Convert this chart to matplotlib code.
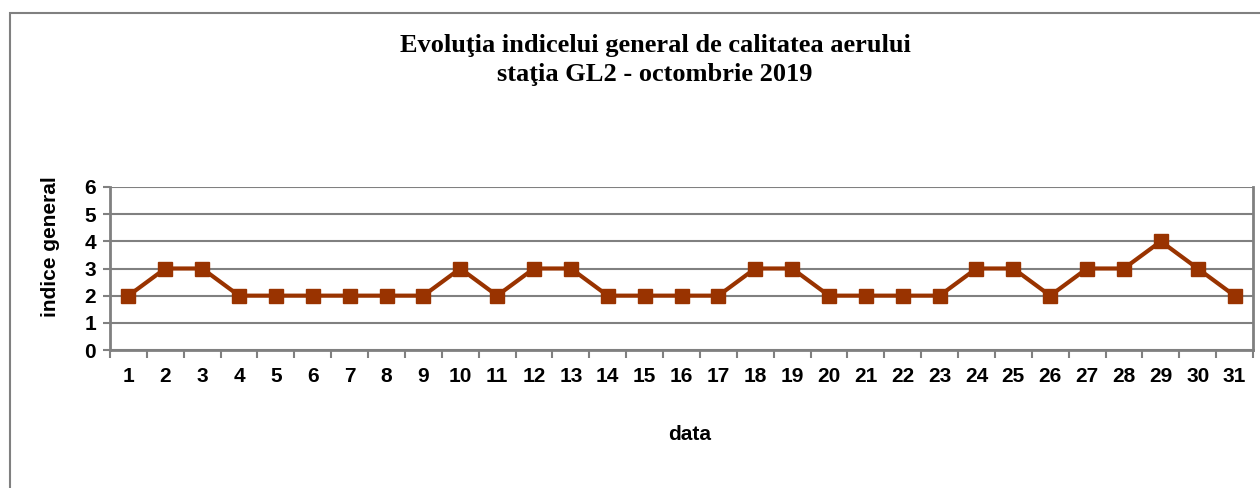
import matplotlib
matplotlib.use("Agg")
import matplotlib.pyplot as plt
from matplotlib.patches import Rectangle

days = list(range(1, 32))
day_labels = [str(d) for d in days]
index_values = [2, 3, 3, 2, 2, 2, 2, 2, 2, 3, 2, 3, 3, 2, 2, 2, 2, 3, 3, 2,
                2, 2, 2, 3, 3, 2, 3, 3, 4, 3, 2]
y_ticks = [0, 1, 2, 3, 4, 5, 6]

title_text = "Evoluţia indicelui general de calitatea aerului\nstaţia GL2 - octombrie 2019"
x_label = "data"
y_label = "indice general"

W, H = 1260, 488
fig = plt.figure(figsize=(W / 100, H / 100), dpi=100)
fig.patch.set_facecolor("white")

# outer chart frame (cut off at right and bottom)
fig.patches.append(Rectangle((10 / W, -0.05), 1.1, 1 - 13 / H + 0.05,
                             transform=fig.transFigure, fill=False,
                             edgecolor="#808080", linewidth=1.5))

ax = fig.add_axes([110 / W, 1 - 350 / H, (1253 - 110) / W, (350 - 187) / H])
grey = "#808080"
ax.plot(days, index_values, color="#993300", linewidth=3, marker="s",
        markersize=10, markerfacecolor="#993300", markeredgecolor="#993300",
        zorder=3, clip_on=False)

ax.set_xlim(0.5, 31.5)
ax.set_ylim(0, 6)
ax.set_yticks(y_ticks)
ax.set_xticks(days)
ax.set_xticklabels(day_labels)
ax.set_xticks([d + 0.5 for d in [0] + days], minor=True)
ax.tick_params(axis="x", which="major", length=0, pad=12)
ax.tick_params(axis="x", which="minor", length=6, width=1.5, color=grey, direction="out")
ax.tick_params(axis="y", which="major", length=5, width=1.5, color=grey, direction="out", pad=5)
ax.yaxis.grid(True, color=grey, linewidth=1.5)
ax.set_axisbelow(True)
for s in ["left", "bottom", "right"]:
    ax.spines[s].set_color(grey)
    ax.spines[s].set_linewidth(2)
ax.spines["top"].set_visible(False)

for lab in ax.get_xticklabels() + ax.get_yticklabels():
    lab.set_fontfamily("Liberation Sans")
    lab.set_fontweight("bold")
    lab.set_fontsize(15)

fig.text(50 / W, 1 - 247 / H, y_label, rotation=90, ha="center", va="center",
         fontfamily="Liberation Sans", fontweight="bold", fontsize=15)
fig.text(690 / W, 1 - 434 / H, x_label, ha="center", va="center",
         fontfamily="Liberation Sans", fontweight="bold", fontsize=15)

fig.text(655 / W, 1 - 60 / H, title_text, ha="center", va="center",
         fontfamily="Liberation Serif", fontweight="bold", fontsize=19,
         linespacing=1.35)

fig.savefig("out.png", dpi=100)
